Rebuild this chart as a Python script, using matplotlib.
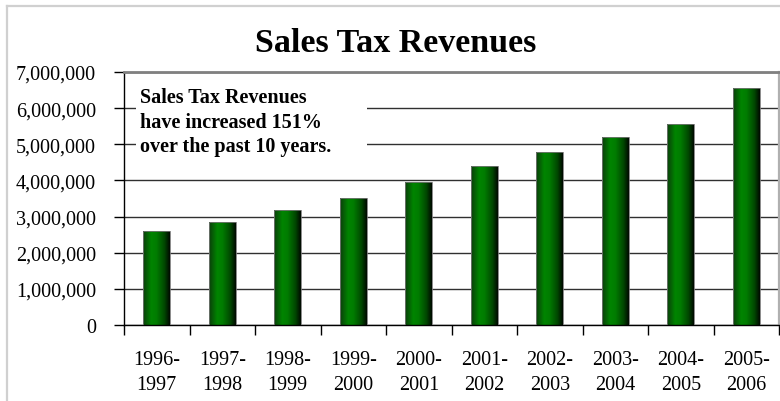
import matplotlib
matplotlib.use("Agg")
import matplotlib.pyplot as plt
import numpy as np
from matplotlib.colors import LinearSegmentedColormap
from matplotlib.lines import Line2D
from matplotlib.patches import Rectangle
from matplotlib.ticker import FuncFormatter

plt.rcParams['font.family'] = ['Liberation Serif', 'DejaVu Serif']

categories = ["1996-\n1997", "1997-\n1998", "1998-\n1999", "1999-\n2000", "2000-\n2001",
              "2001-\n2002", "2002-\n2003", "2003-\n2004", "2004-\n2005", "2005-\n2006"]
revenues = [2590000, 2840000, 3180000, 3520000, 3950000,
            4400000, 4780000, 5190000, 5560000, 6550000]
yticks = [0, 1000000, 2000000, 3000000, 4000000, 5000000, 6000000, 7000000]
title = "Sales Tax Revenues"
note = "Sales Tax Revenues\nhave increased 151%\nover the past 10 years."

W, H = 780, 402
fig = plt.figure(figsize=(W / 100, H / 100), dpi=100)

# outer frame (light grey)
fig.add_artist(Line2D([7 / W, 1], [1 - 7 / H, 1 - 7 / H], color='#d0d0d0', lw=1.6, transform=fig.transFigure))
fig.add_artist(Line2D([7 / W, 7 / W], [0, 1 - 7 / H], color='#d0d0d0', lw=1.6, transform=fig.transFigure))

left, right, top, bottom = 124, 779, 73, 326
ax = fig.add_axes([left / W, 1 - bottom / H, (right - left) / W, (bottom - top) / H])

x = np.arange(len(categories))
bars = ax.bar(x, revenues, width=0.41, color='none', edgecolor='#777777', linewidth=0.6, zorder=3)

cmap = LinearSegmentedColormap.from_list('g', [(0.0, '#0b3f0b'), (0.3, '#008400'),
                                              (0.5, '#007c00'), (0.8, '#004800'), (1.0, '#000a00')])
grad = np.linspace(0, 1, 64).reshape(1, -1)
for b in bars:
    im = ax.imshow(grad, cmap=cmap, aspect='auto', zorder=2,
                   extent=[b.get_x(), b.get_x() + b.get_width(), 0, b.get_height()])
    im.set_clip_path(b)

ax.set_xlim(-0.5, len(categories) - 0.5)
ax.set_ylim(0, 7000000)
ax.set_yticks(yticks)
ax.yaxis.set_major_formatter(FuncFormatter(lambda v, p: f"{int(v):,}"))
ax.set_xticks(x)
ax.set_xticklabels(categories, linespacing=1.45)
ax.set_xticks(np.arange(len(categories) + 1) - 0.5, minor=True)
ax.tick_params(axis='x', which='major', length=0, pad=18, labelsize=14.5)
ax.tick_params(axis='x', which='minor', length=7, width=1, color='black', direction='out')
ax.tick_params(axis='y', length=7, width=1, color='black', direction='out', pad=13, labelsize=14.5)

ax.grid(axis='y', color='#303030', lw=1.0, zorder=1)
ax.set_axisbelow(True)
for s in ['left', 'bottom']:
    ax.spines[s].set_color('black')
    ax.spines[s].set_linewidth(1.0)
ax.spines['top'].set_color('#808080')
ax.spines['top'].set_linewidth(2.0)
ax.spines['right'].set_color('#b0b0b0')
ax.spines['right'].set_linewidth(1.6)

# note box
ax.add_patch(Rectangle((0.018, 0.656), 0.353, 0.336, transform=ax.transAxes,
                       facecolor='white', edgecolor='none', zorder=4))
ax.text(0.024, 0.94, note, transform=ax.transAxes, ha='left', va='top',
        fontsize=14.5, fontweight='bold', linespacing=1.3, zorder=5)

fig.text(396 / W, 1 - 44 / H, title, ha='center', va='center', fontsize=24.5, fontweight='bold')

fig.savefig("out.png", dpi=100)
